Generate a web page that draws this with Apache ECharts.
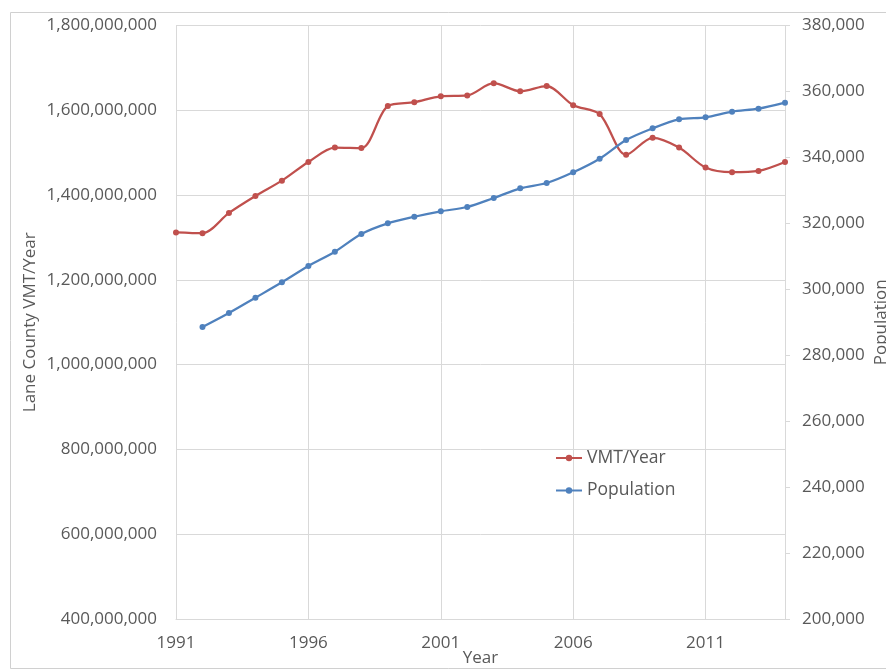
<!DOCTYPE html>
<html>
<head>
<meta charset="utf-8">
<script src="https://cdn.jsdelivr.net/npm/echarts@6/dist/echarts.min.js"></script>
<style>
html,body{margin:0;padding:0;background:#fff;}
#chart{width:886px;height:671px;}
</style>
</head>
<body>
<div id="chart"></div>
<script>
const years = [1991,1992,1993,1994,1995,1996,1997,1998,1999,2000,2001,2002,2003,2004,2005,2006,2007,2008,2009,2010,2011,2012,2013,2014];
const vmtPerYear = [1312e6,1310e6,1358e6,1398e6,1434e6,1478e6,1512e6,1511e6,1610e6,1619e6,1633e6,1635e6,1664e6,1645e6,1657e6,1612e6,1591e6,1495e6,1535e6,1512e6,1465e6,1454e6,1457e6,1478e6];
const population = [null,288550,292800,297440,302110,307060,311390,316760,320000,322000,323650,324950,327680,330620,332230,335480,339600,345270,348820,351550,352160,353860,354770,356590];

const font = 'Open Sans';
const grey = '#595959';
const vmtData = years.map((y,i)=>[y, vmtPerYear[i]]);
const popData = years.map((y,i)=>population[i]==null?null:[y, population[i]]).filter(d=>d);

const fmt = v => v.toLocaleString('en-US');

const chart = echarts.init(document.getElementById('chart'));
chart.setOption({
  animation:false,
  backgroundColor:'#fff',
  textStyle:{fontFamily:font},
  graphic:[{type:'rect', shape:{x:10.5,y:12.5,width:900,height:656}, style:{fill:'none', stroke:'#d0d0d0', lineWidth:1}, silent:true}],
  grid:{left:176, right:101, top:25.5, bottom:52, containLabel:false, outerBoundsMode:'none'},
  legend:{
    orient:'vertical', left:550, top:444, itemGap:14.5,
    itemWidth:26, itemHeight:8,
    textStyle:{fontFamily:font, fontSize:17.5, color:grey},
    data:['VMT/Year','Population']
  },
  xAxis:{
    type:'value', min:1991, max:2014, interval:5,
    name:'Year', nameLocation:'middle', nameGap:31, nameMoveOverlap:false,
    nameTextStyle:{fontFamily:font, fontSize:17, color:grey},
    axisLine:{show:true, lineStyle:{color:'#d9d9d9'}},
    axisTick:{show:false},
    axisLabel:{fontFamily:font, fontSize:17, color:grey, margin:16, showMaxLabel:false, formatter:v=>String(v)},
    splitLine:{show:true, lineStyle:{color:'#d9d9d9'}}
  },
  yAxis:[{
    type:'value', min:400000000, max:1800000000, interval:200000000,
    position:'left',
    name:'Lane County VMT/Year', nameLocation:'middle', nameGap:137, nameMoveOverlap:false,
    nameTextStyle:{fontFamily:font, fontSize:17, color:grey},
    axisLine:{show:false},
    axisTick:{show:false},
    axisLabel:{fontFamily:font, fontSize:17, color:grey, margin:19, formatter:fmt},
    splitLine:{show:true, lineStyle:{color:'#d9d9d9'}}
  },{
    type:'value', min:200000, max:380000, interval:20000,
    position:'right',
    name:'Population', nameLocation:'middle', nameGap:88, nameRotate:90, nameMoveOverlap:false,
    nameTextStyle:{fontFamily:font, fontSize:17, color:grey},
    axisLine:{show:true, lineStyle:{color:'#d9d9d9'}},
    axisTick:{show:true, length:5, lineStyle:{color:'#d9d9d9'}},
    axisLabel:{fontFamily:font, fontSize:17, color:grey, margin:17, formatter:fmt},
    splitLine:{show:false}
  }],
  series:[{
    name:'VMT/Year', type:'line', yAxisIndex:0, smooth:0.3,
    data:vmtData, symbol:'circle', symbolSize:6,
    lineStyle:{color:'#C0504D', width:2.25},
    itemStyle:{color:'#C0504D'}
  },{
    name:'Population', type:'line', yAxisIndex:1, smooth:0.3,
    data:popData, symbol:'circle', symbolSize:6,
    lineStyle:{color:'#4F81BD', width:2.25},
    itemStyle:{color:'#4F81BD'}
  }]
});
</script>
</body>
</html>
